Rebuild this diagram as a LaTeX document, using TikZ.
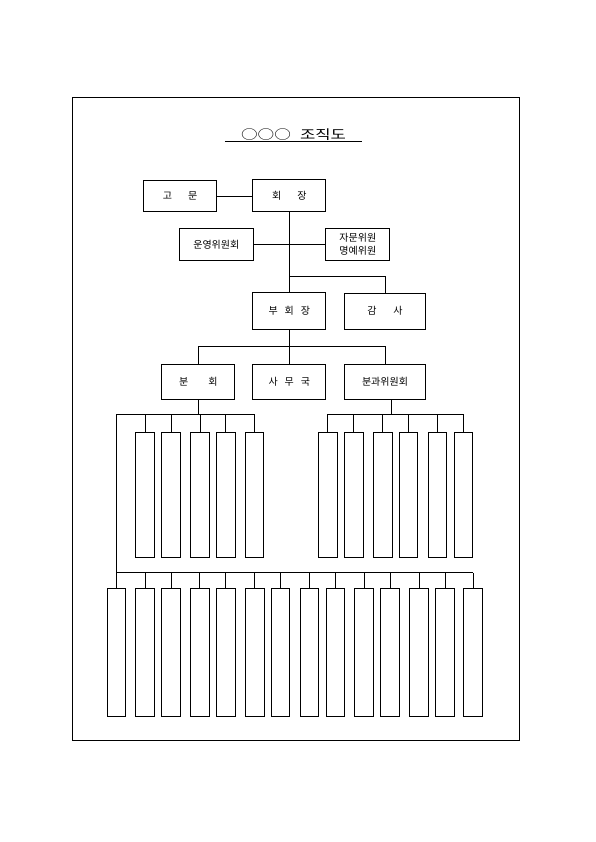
\documentclass[tikz,border=0pt]{standalone}
\usepackage{fontspec}
\newfontfamily\kr{Noto Sans CJK KR}
\usetikzlibrary{calc}

\begin{document}
\begin{tikzpicture}[x=1pt,y=1pt,yscale=-1,xscale=1,
  box/.style={draw,line width=1pt,inner sep=0pt,align=center,font=\kr\fontsize{10}{13}\selectfont},
  bar/.style={draw,line width=1pt,inner sep=0pt,minimum width=18.6pt},
  link/.style={line width=0.6pt}]
\useasboundingbox (0,0) rectangle (595,842);

%Shape: Frame
\draw [line width=0.9pt] (72,97) rectangle (519,740);

% Title
\node (title) [inner xsep=16pt,inner ysep=0.5pt,font=\kr\fontsize{13}{15}\selectfont] at (293.5,135)
  {\scalebox{1.28}[1]{○○○\hspace{0.55em}조직도}};
\draw [line width=0.8pt] (title.south west) -- (title.south east);

% Boxes
\node (gomun) [box,minimum width=73.4pt,minimum height=31.7pt] at (180,196) {고\hspace{1.6em}문};
\node (hoejang) [box,minimum width=73.3pt,minimum height=32pt] at (289.3,196) {회\hspace{1.6em}장};
\node (unyeong) [box,minimum width=74pt,minimum height=32.4pt] at (216.3,244.5) {운영위원회};
\node (jamun) [box,minimum width=64.3pt,minimum height=32.7pt] at (357.8,244.5) {자문위원\\명예위원};
\node (buhoejang) [box,minimum width=73.3pt,minimum height=36.3pt] at (289.3,311) {부\hspace{0.7em}회\hspace{0.7em}장};
\node (gamsa) [box,minimum width=81.4pt,minimum height=36pt] at (385,311) {감\hspace{1.7em}사};
\node (bunhoe) [box,minimum width=73.3pt,minimum height=35pt] at (198.3,381.5) {분\hspace{2em}회};
\node (samuguk) [box,minimum width=73.3pt,minimum height=35pt] at (289.3,381.5) {사\hspace{0.7em}무\hspace{0.7em}국};
\node (bungwa) [box,minimum width=81.4pt,minimum height=35pt] at (385,381.5) {분과위원회};

% Bars
\foreach \x [count=\i] in {145,170.8,199.8,225.7,254.5}
  \node (lb\i) [bar,minimum height=124.3pt] at (\x,494.9) {};
\foreach \x [count=\i] in {327.7,353.7,382.7,408.5,437.5,463.3}
  \node (rb\i) [bar,minimum height=124.3pt] at (\x,494.9) {};
\foreach \x [count=\i] in {116.5,144.8,170.8,199.7,225.7,254.7,280.3,309.3,335.3,364,390.2,418.8,444.8,472.8}
  \node (bb\i) [bar,minimum height=128pt] at (\x,652.7) {};

% Connectors
\coordinate (j1) at (289.3,276);
\coordinate (j2) at (289.3,346.7);
\coordinate (lbus) at (116.5,414.3);
\coordinate (rbus) at (391.7,414.3);
\coordinate (bbus) at (116.5,572.7);

\draw [link] (gomun) -- (hoejang);
\draw [link] (unyeong) -- (jamun);
\draw [link] (hoejang.south) -- (buhoejang.north);
\draw [link] (j1) -| (gamsa.north);
\draw [link] (buhoejang.south) -- (samuguk.north);
\draw [link] (bunhoe.north) |- (j2) -| (bungwa.north);

\draw [link] (bunhoe.south) -- (bunhoe.south |- lbus);
\draw [link] (lbus) -- (lb5.north |- lbus);
\foreach \i in {1,...,5}
  \draw [link] (lb\i.north) -- (lb\i.north |- lbus);

\draw [link] ([xshift=6.7pt]bungwa.south) -- (rbus);
\draw [link] (rb1.north |- rbus) -- (rb6.north |- rbus);
\foreach \i in {1,...,6}
  \draw [link] (rb\i.north) -- (rb\i.north |- rbus);

\draw [link] (lbus) -- (bbus) -- (bb14.north |- bbus);
\foreach \i in {1,...,14}
  \draw [link] (bb\i.north) -- (bb\i.north |- bbus);

\end{tikzpicture}
\end{document}
